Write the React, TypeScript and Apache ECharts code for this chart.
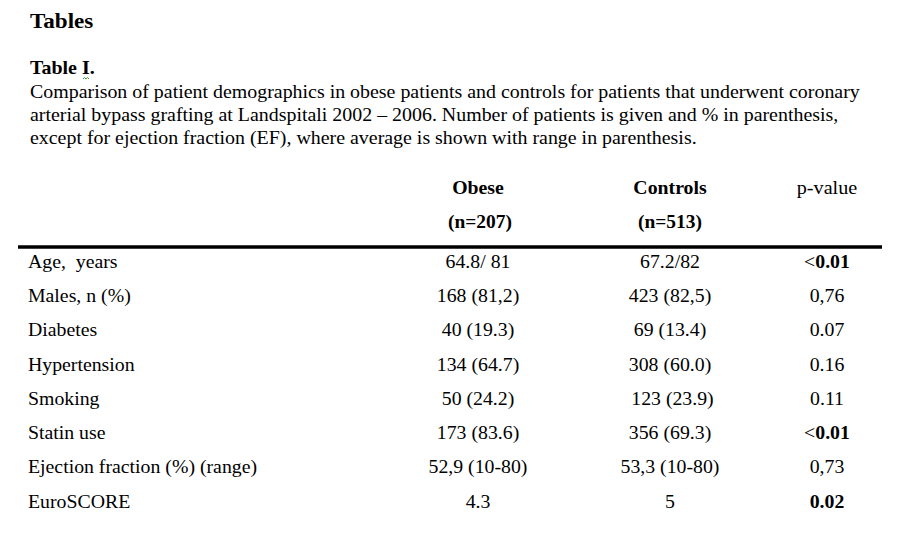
import React, { useEffect, useRef } from "react";
import * as echarts from "echarts";

const pageTitle = "Tables";
const tableTitle = "Table I.";
const captionLines = [
  "Comparison of patient demographics in obese patients and controls for patients that underwent coronary",
  "arterial bypass grafting at Landspitali 2002 \u2013 2006. Number of patients is given and % in parenthesis,",
  "except for ejection fraction (EF), where average is shown with range in parenthesis.",
];
const headers = ["Obese", "Controls", "p-value"];
const subHeaders = ["(n=207)", "(n=513)", ""];
const headerBold = [true, true, false];
const rowLabels = [
  "Age,  years",
  "Males, n (%)",
  "Diabetes",
  "Hypertension",
  "Smoking",
  "Statin use",
  "Ejection fraction (%) (range)",
  "EuroSCORE",
];
const obeseValues = ["64.8/ 81", "168 (81,2)", "40 (19.3)", "134 (64.7)", "50 (24.2)", "173 (83.6)", "52,9 (10-80)", "4.3"];
const controlValues = ["67.2/82", "423 (82,5)", "69 (13.4)", "308 (60.0)", " 123 (23.9)", "356 (69.3)", "53,3 (10-80)", "5"];
const pValues = ["<0.01", "0,76", "0.07", "0.16", "0.11", "<0.01", "0,73", "0.02"];
const pBold = [true, false, false, false, false, true, false, true];

const FONT = '"Liberation Serif", "Times New Roman", serif';

export default function App() {
  const ref = useRef<HTMLDivElement>(null);
  useEffect(() => {
    if (!ref.current) return;
    const chart = echarts.init(ref.current, undefined, { renderer: "svg" });
    const els: any[] = [];
    const txt = (x: number, y: number, text: string, size: number, opts: any = {}) => {
      els.push({
        type: "text",
        x,
        y,
        scaleX: opts.scaleX ?? 1,
        style: {
          text,
          fontFamily: FONT,
          fontSize: size,
          fontWeight: opts.bold ? "bold" : "normal",
          fill: "#000",
          align: opts.align ?? "left",
          verticalAlign: "middle",
          rich: opts.rich,
        },
      });
    };
    txt(30, 21, pageTitle, 22, { bold: true, scaleX: 1.05 });
    txt(30, 68, tableTitle, 19, { bold: true, scaleX: 1.05 });
    els.push({
      type: "polyline",
      shape: { points: [[83, 79], [84.5, 77.5], [86, 79], [87.5, 77.5], [89, 79]] },
      style: { stroke: "#3c9a3c", lineWidth: 1, fill: null },
    });
    captionLines.forEach((l, i) => txt(30, 92 + i * 23, l, 18, { scaleX: 1.107 }));
    const colX = [478, 670, 827];
    headers.forEach((h, i) => txt(colX[i], 188, h, 18, { bold: headerBold[i], align: "center", scaleX: headerBold[i] ? 1.1 : 1.12 }));
    subHeaders.forEach((h, i) => h && txt(colX[i] + (i === 0 ? 2 : 0), 222, h, 18, { bold: true, align: "center", scaleX: 1.08 }));
    els.push({
      type: "line",
      shape: { x1: 18, y1: 247, x2: 882, y2: 247 },
      style: { stroke: "#000", lineWidth: 3.5 },
    });
    rowLabels.forEach((lab, i) => {
      const y = 261.5 + i * 34.3;
      txt(28, y, lab, 18, { scaleX: 1.1 });
      txt(colX[0], y, obeseValues[i], 18, { align: "center", scaleX: 1.1 });
      txt(colX[1], y, controlValues[i], 18, { align: "center", scaleX: 1.1 });
      let pv = pValues[i];
      if (pBold[i]) {
        const m = pv.match(/^([<>]?)(.*)$/)!;
        pv = (m[1] ? "{r|" + m[1] + "}" : "") + "{b|" + m[2] + "}";
      }
      txt(colX[2], y, pv, 18, {
        align: "center",
        scaleX: 1.1,
        rich: {
          r: { fontFamily: FONT, fontSize: 18, fontWeight: "normal", fill: "#000" },
          b: { fontFamily: FONT, fontSize: 18, fontWeight: "bold", fill: "#000" },
        },
      });
    });
    chart.setOption({
      animation: false,
      backgroundColor: "#fff",
      graphic: { elements: els },
    });
    return () => chart.dispose();
  }, []);
  return (
    <div
      ref={ref}
      style={{ position: "fixed", left: 0, top: 0, width: 901, height: 551, background: "#fff" }}
    />
  );
}
